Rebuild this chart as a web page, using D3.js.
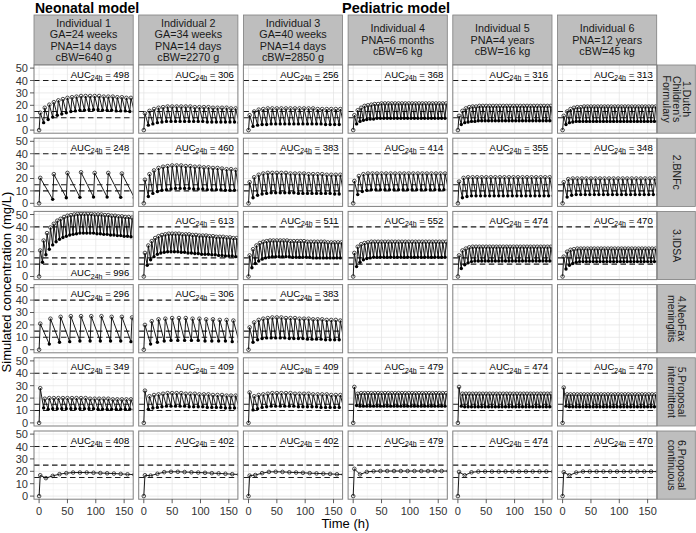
<!DOCTYPE html>
<html>
<head>
<meta charset="utf-8">
<script src="https://cdn.jsdelivr.net/npm/d3@7"></script>
<style>
  body { margin: 0; background: #fff; }
  text { font-family: "Liberation Sans", Arial, sans-serif; }
</style>
</head>
<body>
<svg width="696" height="533"></svg>
<script>
// ---- labels ----
const individuals = [
    ['Individual 1', 'GA=24 weeks', 'PNA=14 days', 'cBW=640 g'],
    ['Individual 2', 'GA=34 weeks', 'PNA=14 days', 'cBW=2270 g'],
    ['Individual 3', 'GA=40 weeks', 'PNA=14 days', 'cBW=2850 g'],
    ['Individual 4', 'PNA=6 months', 'cBW=6 kg'],
    ['Individual 5', 'PNA=4 years', 'cBW=16 kg'],
    ['Individual 6', 'PNA=12 years', 'cBW=45 kg']
];
const regimens = [
    ['1.Dutch', "Children's", 'Formulary'],
    ['2.BNFc'],
    ['3.IDSA'],
    ['4.NeoFax', 'meningitis'],
    ['5.Proposal', 'intermittent'],
    ['6.Proposal', 'continuous']
];
const aucValues = [
    [498, 306, 256, 368, 316, 313],
    [248, 460, 383, 414, 355, 348],
    [996, 613, 511, 552, 474, 470],
    [296, 306, 383, null, null, null],
    [349, 409, 409, 479, 474, 470],
    [408, 402, 402, 479, 474, 470]
];
const aucAtBottom = [[2, 0]];   // row, col of the label drawn at the bottom

const xTicks = [0, 50, 100, 150];
const yTicks = [0, 10, 20, 30, 40, 50];
const targetLines = [[10, 15, 40], [10, 15, 40], [10, 15, 40], [10, 15, 40], [10, 15, 40], [15, 25, 40]];

// dosing interval (h) per regimen row / individual, 0 = no simulation
const intervals = [
    [8, 8, 8, 6, 6, 6],
    [24, 8, 8, 8, 8, 8],
    [6, 6, 6, 6, 6, 6],
    [18, 12, 8, 0, 0, 0],
    [8, 8, 8, 6, 6, 6]
];
const infusionEnd = 2;

// ---- peak / trough concentrations (mg/L), one value per dose ----
const dutchPeaks = [
    [14, 18, 20.5, 22.5, 24, 25, 26, 26.5, 27, 27.5, 27.5, 27.5, 27.5, 27.5, 27, 27, 27, 26.5, 26.5, 26, 26],
    [13.5, 15.5, 17, 18, 18.5, 19, 19, 19, 19, 19, 19, 18.5, 18.5, 18.5, 18.5, 18, 18, 18, 18, 17.5, 17.5],
    [12, 15, 16.5, 17, 17.5, 17.5, 17.5, 17.5, 17.5, 17.5, 17.5, 17.5, 17.5, 17.5, 17.5, 17, 17, 17, 17, 17, 17],
    [12, 16, 18, 19.5, 20, 20.5, 21, 21, 21.5, 21.5, 21.5, 21.5, 21.5, 21.5,
     21.5, 21.5, 21.5, 21.5, 21.5, 21.5, 21.5, 21.5, 21.5, 21.5, 21.5, 21.5, 21.5, 21.5],
    [11.5, 15.5, 17.5, 18.5, 19, 19, 19.5, 19.5, 19.5, 19.5, 19.5, 19.5, 19.5, 19.5,
     19.5, 19.5, 19.5, 19.5, 19.5, 19.5, 19.5, 19.5, 19.5, 19.5, 19.5, 19.5, 19.5, 19.5],
    [11.5, 15, 17, 18, 18.5, 18.5, 19, 19, 19, 19, 19, 19, 19, 19,
     19, 19, 19, 19, 19, 19, 19, 19, 19, 19, 19, 19, 19, 19]
];
const dutchTroughs = [
    [6, 8.5, 10.5, 12, 13, 14, 15, 15.5, 16, 16, 16.5, 16.5, 16.5, 16, 16, 16, 15.5, 15.5, 15.5, 15, 15],
    [4, 5, 6, 6.5, 7, 7, 7, 7, 7, 7, 7, 7, 7, 6.5, 6.5, 6.5, 6.5, 6.5, 6.5, 6.5, 6],
    [3, 4, 4.5, 4.5, 5, 5, 5, 5, 5, 5, 5, 5, 5, 5, 5, 5, 4.5, 4.5, 4.5, 4.5, 4.5],
    [5, 7, 8, 8.5, 9, 9, 9.5, 9.5, 9.5, 9.5, 9.5, 9.5, 9.5, 9.5,
     9.5, 9.5, 9.5, 9.5, 9.5, 9.5, 9.5, 9.5, 9.5, 9.5, 9.5, 9.5, 9.5, 9.5],
    [4.5, 6, 6.5, 7, 7, 7.5, 7.5, 7.5, 7.5, 7.5, 7.5, 7.5, 7.5, 7.5,
     7.5, 7.5, 7.5, 7.5, 7.5, 7.5, 7.5, 7.5, 7.5, 7.5, 7.5, 7.5, 7.5, 7.5],
    [4.5, 6, 6.5, 7, 7, 7, 7, 7, 7, 7, 7, 7, 7, 7,
     7, 7, 7, 7, 7, 7, 7, 7, 7, 7, 7, 7, 7, 7]
];
const bnfcPeaks = [
    [20.5, 23.5, 24.5, 25, 24.5, 24.5, 24],
    [19, 23.5, 26.5, 28.5, 29.5, 30, 30.5, 30.5, 30.5, 30, 30, 29.5, 29.5, 29, 29, 28.5, 28.5, 28, 27.5, 27.5, 27],
    [17, 21, 23, 24, 24.5, 24.5, 24.5, 24.5, 24.5, 24, 24, 24, 24, 23.5, 23.5, 23.5, 23.5, 23, 23, 23, 23],
    [18, 22, 23.5, 24, 24, 24, 24, 24, 24, 24, 24, 24, 24, 24, 24, 24, 24, 24, 24, 24, 24],
    [17.5, 20.5, 21, 21, 21, 21, 21, 21, 21, 21, 21, 21, 21, 21, 21, 21, 21, 21, 21, 21, 21],
    [17, 19.5, 20, 20, 20, 20, 20, 20, 20, 20, 20, 20, 20, 20, 20, 20, 20, 20, 20, 20, 20]
];
const bnfcTroughs = [
    [3.2, 4.5, 4.8, 5, 5, 4.8, 4.5],
    [5.5, 8, 9.5, 10.5, 11, 11.5, 12, 12, 12, 12, 11.5, 11.5, 11.5, 11, 11, 11, 11, 10.5, 10.5, 10.5, 10.5],
    [4.5, 6.5, 7.5, 8, 8.5, 8.5, 8.5, 8.5, 8.5, 8.5, 8, 8, 8, 8, 8, 8, 8, 8, 7.5, 7.5, 7.5],
    [7, 9.5, 10.5, 11, 11, 11, 11, 11, 11, 11, 11, 11, 11, 11, 11, 11, 11, 11, 11, 11, 11],
    [4.5, 5.5, 6, 6, 6, 6, 6, 6, 6, 6, 6, 6, 6, 6, 6, 6, 6, 6, 6, 6, 6],
    [5, 6.5, 7, 7, 7, 7, 7, 7, 7, 7, 7, 7, 7, 7, 7, 7, 7, 7, 7, 7, 7]
];
const idsaPeaks = [
    [21, 29, 35, 39.5, 42.5, 45, 46.5, 48, 49, 49.5, 50, 50.5, 50.5, 50.5,
     50.5, 50.5, 50, 50, 50, 49.5, 49.5, 49, 49, 48.5, 48.5, 48, 48, 47.5],
    [19, 25, 28.5, 31, 32.5, 33.5, 34, 34.5, 34.5, 34.5, 34.5, 34, 34, 34,
     33.5, 33.5, 33, 33, 33, 32.5, 32.5, 32, 32, 32, 31.5, 31.5, 31, 31],
    [17, 22, 25, 27, 28, 28.5, 29, 29, 29, 29, 29, 29, 28.5, 28.5,
     28.5, 28.5, 28.5, 28, 28, 28, 28, 28, 28, 27.5, 27.5, 27.5, 27.5, 27.5],
    [19, 24, 26, 27, 27.5, 28, 28, 28, 28, 28, 28, 28, 28, 28,
     28, 28, 28, 28, 28, 28, 28, 28, 28, 28, 28, 28, 28, 28],
    [17, 21, 22.5, 23.5, 24, 24, 24, 24, 24, 24, 24, 24, 24, 24,
     24, 24, 24, 24, 24, 24, 24, 24, 24, 24, 24, 24, 24, 24],
    [16, 20, 21.5, 22, 22.5, 22.5, 22.5, 22.5, 22.5, 22.5, 22.5, 22.5, 22.5, 22.5,
     22.5, 22.5, 22.5, 22.5, 22.5, 22.5, 22.5, 22.5, 22.5, 22.5, 22.5, 22.5, 22.5, 22.5]
];
const idsaTroughs = [
    [11.5, 17.5, 22, 25.5, 28, 30, 31.5, 32.5, 33.5, 34, 34.5, 35, 35, 35,
     35, 35, 34.5, 34.5, 34, 34, 33.5, 33.5, 33, 33, 32.5, 32.5, 32, 32],
    [9, 13.5, 16, 18, 19, 19.5, 20, 20, 20, 20, 19.5, 19.5, 19, 19,
     18.5, 18.5, 18, 18, 18, 17.5, 17.5, 17, 17, 16.5, 16.5, 16.5, 16, 16],
    [7, 10.5, 12.5, 14, 15, 15.5, 16, 16, 16, 16, 16, 16, 15.5, 15.5,
     15.5, 15.5, 15.5, 15.5, 15, 15, 15, 15, 15, 15, 15, 15, 15, 15],
    [8, 11.5, 13.5, 14.5, 15, 15.5, 15.5, 15.5, 15.5, 15.5, 15.5, 15.5, 15.5, 15.5,
     15.5, 15.5, 15.5, 15.5, 15.5, 15.5, 15.5, 15.5, 15.5, 15.5, 15.5, 15.5, 15.5, 15.5],
    [6.5, 9.5, 11, 12, 12.5, 12.5, 12.5, 12.5, 12.5, 12.5, 12.5, 12.5, 12.5, 12.5,
     12.5, 12.5, 12.5, 12.5, 12.5, 12.5, 12.5, 12.5, 12.5, 12.5, 12.5, 12.5, 12.5, 12.5],
    [6, 9, 10.5, 11.5, 12, 12, 12, 12, 12, 12, 12, 12, 12, 12,
     12, 12, 12, 12, 12, 12, 12, 12, 12, 12, 12, 12, 12, 12]
];
const neofaxPeaks = [
    [21, 25, 26.5, 27, 27, 27, 27, 26.5, 26.5, 26],
    [20, 23, 24.5, 25, 25.5, 25.5, 25.5, 25, 25, 24.5, 24.5, 24, 24, 23.5],
    [18, 22, 24, 25, 25.5, 26, 26, 26, 25.5, 25.5, 25.5, 25, 25, 25, 24.5, 24.5, 24.5, 24, 24, 24, 23.5],
    [], [], []
];
const neofaxTroughs = [
    [4.5, 6, 6.5, 7, 7, 7, 7, 7, 6.5, 6.5],
    [4.5, 6, 7, 7.5, 7.5, 7.5, 7.5, 7.5, 7, 7, 7, 7, 6.5, 6.5],
    [6, 8, 9, 9.5, 9.5, 9.5, 9.5, 9.5, 9, 9, 9, 9, 8.5, 8.5, 8.5, 8.5, 8, 8, 8, 8, 8],
    [], [], []
];
const propIntPeaks = [
    [28, 19.5, 20, 20, 20, 20, 20, 20, 20, 20, 20, 19.5, 19.5, 19.5, 19.5, 19.5, 19, 19, 19, 19, 19],
    [26, 21.5, 22.5, 23, 23.5, 24, 24, 24, 24, 23.5, 23.5, 23.5, 23, 23, 23, 22.5, 22.5, 22.5, 22, 22, 22],
    [24.5, 21.5, 22.5, 23, 23.5, 24, 24, 24, 24, 24, 23.5, 23.5, 23.5, 23.5, 23, 23, 23, 23, 22.5, 22.5, 22.5],
    [29, 23.5, 24, 24, 24, 24, 24, 24, 24, 24, 24, 24, 24, 24,
     24, 24, 24, 24, 24, 24, 24, 24, 24, 24, 24, 24, 24, 24],
    [29, 23.5, 23.5, 23.5, 23.5, 23.5, 23.5, 23.5, 23.5, 23.5, 23.5, 23.5, 23.5, 23.5,
     23.5, 23.5, 23.5, 23.5, 23.5, 23.5, 23.5, 23.5, 23.5, 23.5, 23.5, 23.5, 23.5, 23.5],
    [28.5, 23, 23, 23, 23, 23, 23, 23, 23, 23, 23, 23, 23, 23,
     23, 23, 23, 23, 23, 23, 23, 23, 23, 23, 23, 23, 23, 23]
];
const propIntTroughs = [
    [12, 11, 11.5, 11.5, 11.5, 11.5, 11.5, 11.5, 11.5, 11.5, 11.5, 11.5, 11, 11, 11, 11, 11, 11, 11, 11, 11],
    [11, 12, 12.5, 13, 13.5, 13.5, 13.5, 13.5, 13.5, 13, 13, 13, 13, 12.5, 12.5, 12.5, 12.5, 12, 12, 12, 12],
    [10.5, 11.5, 12.5, 13, 13.5, 13.5, 13.5, 13.5, 13.5, 13.5, 13, 13, 13, 13, 13, 12.5, 12.5, 12.5, 12.5, 12.5, 12],
    [14, 13.5, 13.5, 13.5, 13.5, 13.5, 13.5, 13.5, 13.5, 13.5, 13.5, 13.5, 13.5, 13.5,
     13.5, 13.5, 13.5, 13.5, 13.5, 13.5, 13.5, 13.5, 13.5, 13.5, 13.5, 13.5, 13.5, 13.5],
    [13.5, 13, 13, 13, 13, 13, 13, 13, 13, 13, 13, 13, 13, 13,
     13, 13, 13, 13, 13, 13, 13, 13, 13, 13, 13, 13, 13, 13],
    [13.5, 13, 13, 13, 13, 13, 13, 13, 13, 13, 13, 13, 13, 13,
     13, 13, 13, 13, 13, 13, 13, 13, 13, 13, 13, 13, 13, 13]
];

// continuous infusion: sampling times and levels
const contTimes = [0, 2, 12, 24, 36, 48, 60, 72, 84, 96, 108, 120, 132, 144, 156, 168];
const contLevels = [
    [0, 16.8, 14.5, 16.3, 17.7, 18.5, 19, 19, 19, 18.8, 18.6, 18.4, 18.2, 17.9, 17.6, 17.3],
    [0, 16.8, 16.5, 18, 19.3, 19.6, 19.6, 19.4, 19.2, 19, 18.8, 18.5, 18.3, 18, 17.7, 17.4],
    [0, 16.5, 17, 18.5, 19.5, 19.6, 19.5, 19.2, 19, 18.8, 18.5, 18.3, 18.1, 17.9, 17.6, 17.4],
    [0, 22, 17.5, 19.5, 20, 20.2, 20.2, 20.2, 20.2, 20.2, 20.2, 20.2, 20.2, 20.2, 20.2, 20.2],
    [0, 19.5, 16.8, 19.2, 19.8, 19.8, 19.8, 19.8, 19.8, 19.8, 19.8, 19.8, 19.8, 19.8, 19.8, 19.8],
    [0, 19.3, 16.8, 19, 19.8, 19.8, 19.8, 19.8, 19.8, 19.8, 19.8, 19.8, 19.8, 19.8, 19.8, 19.8]
];

const peakRows = [dutchPeaks, bnfcPeaks, idsaPeaks, neofaxPeaks, propIntPeaks];
const troughRows = [dutchTroughs, bnfcTroughs, idsaTroughs, neofaxTroughs, propIntTroughs];

// ---- layout ----
const panelLeft = 34, panelTop = 65;
const panelW = 99.2, panelH = 68.2;
const colStep = 104.7, rowStep = 73.2;
const stripTop = 15, stripH = 50, sideW = 38;

const svg = d3.select('svg');

const x = d3.scaleLinear().domain([-9, 166]).range([0, panelW]);
const y = d3.scaleLinear().domain([-2.5, 52.5]).range([panelH, 0]);

const line = d3.line().x(d => x(d.t)).y(d => y(d.c));

const intermittent = (tau, peaks, troughs) => {
    const pts = [{ t: 0, c: 0, open: true }];
    peaks.forEach((p, k) => {
        pts.push({ t: k * tau + infusionEnd, c: p, open: true });
        pts.push({ t: (k + 1) * tau, c: troughs[k], open: false });
    });
    return pts;
};

// titles
svg.append('text').attr('x', 35).attr('y', 13)
    .attr('font-size', 14).attr('font-weight', 'bold').text('Neonatal model');
svg.append('text').attr('x', 342).attr('y', 13)
    .attr('font-size', 14.5).attr('font-weight', 'bold').text('Pediatric model');

// column strips
individuals.forEach((lines, c) => {
    const gx = panelLeft + c * colStep;
    const s = svg.append('g').attr('transform', `translate(${gx},${stripTop})`);
    s.append('rect').attr('width', panelW).attr('height', stripH)
        .attr('fill', '#bebebe').attr('stroke', '#7f7f7f').attr('stroke-width', 0.8);
    const lh = 11.4;
    lines.forEach((t, i) => {
        s.append('text')
            .attr('x', panelW / 2)
            .attr('y', stripH / 2 + (i - (lines.length - 1) / 2) * lh + 3.8)
            .attr('text-anchor', 'middle').attr('font-size', 10.8).attr('fill', '#1a1a1a')
            .text(t);
    });
});

// row strips
regimens.forEach((lines, r) => {
    const gy = panelTop + r * rowStep;
    const gx = panelLeft + 5 * colStep + panelW + 0.6;
    svg.append('rect').attr('x', gx).attr('y', gy).attr('width', sideW).attr('height', panelH)
        .attr('fill', '#bebebe').attr('stroke', '#7f7f7f').attr('stroke-width', 0.8);
    const s = svg.append('g').attr('transform', `translate(${gx + sideW / 2},${gy + panelH / 2}) rotate(90)`);
    const lh = 10.2;
    lines.forEach((t, i) => {
        s.append('text')
            .attr('x', 0)
            .attr('y', (i - (lines.length - 1) / 2) * lh + 3.6)
            .attr('text-anchor', 'middle').attr('font-size', 10.5).attr('fill', '#1a1a1a')
            .text(t);
    });
});

const defs = svg.append('defs');
defs.append('clipPath').attr('id', 'panel-clip')
    .append('rect').attr('width', panelW).attr('height', panelH);

for (let r = 0; r < 6; r++) {
    for (let c = 0; c < 6; c++) {
        const g = svg.append('g')
            .attr('transform', `translate(${panelLeft + c * colStep},${panelTop + r * rowStep})`);

        g.append('rect').attr('width', panelW).attr('height', panelH).attr('fill', '#fff');

        // grid
        const grid = g.append('g');
        [5, 15, 25, 35, 45].forEach(v => grid.append('line')
            .attr('x1', 0).attr('x2', panelW).attr('y1', y(v)).attr('y2', y(v))
            .attr('stroke', '#f2f2f2').attr('stroke-width', 0.6));
        [25, 75, 125].forEach(v => grid.append('line')
            .attr('y1', 0).attr('y2', panelH).attr('x1', x(v)).attr('x2', x(v))
            .attr('stroke', '#f2f2f2').attr('stroke-width', 0.6));
        yTicks.forEach(v => grid.append('line')
            .attr('x1', 0).attr('x2', panelW).attr('y1', y(v)).attr('y2', y(v))
            .attr('stroke', '#e3e3e3').attr('stroke-width', 0.7));
        xTicks.forEach(v => grid.append('line')
            .attr('y1', 0).attr('y2', panelH).attr('x1', x(v)).attr('x2', x(v))
            .attr('stroke', '#e3e3e3').attr('stroke-width', 0.7));

        let pts = null;
        if (r < 5) {
            const tau = intervals[r][c];
            if (tau > 0) pts = intermittent(tau, peakRows[r][c], troughRows[r][c]);
        } else {
            pts = contTimes.map((t, i) => ({ t, c: contLevels[c][i], open: true }));
        }

        if (pts) {
            const inner = g.append('g').attr('clip-path', 'url(#panel-clip)');
            targetLines[r].forEach(v => inner.append('line')
                .attr('x1', 0).attr('x2', panelW).attr('y1', y(v)).attr('y2', y(v))
                .attr('stroke', '#1a1a1a').attr('stroke-width', 1.1)
                .attr('stroke-dasharray', '5.5,3.5'));

            inner.append('path').datum(pts)
                .attr('d', line)
                .attr('fill', 'none').attr('stroke', '#000').attr('stroke-width', 0.9);

            inner.selectAll('circle.open').data(pts.filter(d => d.open))
                .enter().append('circle')
                .attr('class', 'open')
                .attr('cx', d => x(d.t)).attr('cy', d => y(d.c)).attr('r', 1.8)
                .attr('fill', 'none').attr('stroke', '#111').attr('stroke-width', 0.75);
            inner.selectAll('circle.filled').data(pts.filter(d => !d.open))
                .enter().append('circle')
                .attr('class', 'filled')
                .attr('cx', d => x(d.t)).attr('cy', d => y(d.c)).attr('r', 1.7)
                .attr('fill', '#000');

            const auc = aucValues[r][c];
            const bottom = aucAtBottom.some(([rr, cc]) => rr === r && cc === c);
            const ty = bottom ? panelH - 3.5 : 12.5;
            const t = g.append('text')
                .attr('x', panelW - 4).attr('y', ty)
                .attr('text-anchor', 'end').attr('font-size', 9.5).attr('fill', '#000');
            t.append('tspan').text('AUC');
            t.append('tspan').attr('font-size', 7).attr('dy', 2.5).text('24h');
            t.append('tspan').attr('dy', -2.5).text(' = ' + auc);
        }

        g.append('rect').attr('width', panelW).attr('height', panelH)
            .attr('fill', 'none').attr('stroke', '#7f7f7f').attr('stroke-width', 1);

        // y axis on first column
        if (c === 0) {
            yTicks.forEach(v => {
                g.append('line').attr('x1', -4).attr('x2', 0).attr('y1', y(v)).attr('y2', y(v))
                    .attr('stroke', '#333').attr('stroke-width', 0.8);
                g.append('text').attr('x', -6).attr('y', y(v) + 4)
                    .attr('text-anchor', 'end').attr('font-size', 11).attr('fill', '#333')
                    .text(v);
            });
        }
        // x axis on bottom row
        if (r === 5) {
            xTicks.forEach(v => {
                g.append('line').attr('x1', x(v)).attr('x2', x(v)).attr('y1', panelH).attr('y2', panelH + 4)
                    .attr('stroke', '#333').attr('stroke-width', 0.8);
                g.append('text').attr('x', x(v)).attr('y', panelH + 16)
                    .attr('text-anchor', 'middle').attr('font-size', 11).attr('fill', '#333')
                    .text(v);
            });
        }
    }
}

// axis titles
const panelsBottom = panelTop + 5 * rowStep + panelH;
svg.append('text')
    .attr('x', (panelLeft + panelLeft + 5 * colStep + panelW) / 2).attr('y', panelsBottom + 29)
    .attr('text-anchor', 'middle').attr('font-size', 13).attr('fill', '#000')
    .text('Time (h)');
svg.append('text')
    .attr('transform', `translate(11,${(panelTop + panelsBottom) / 2}) rotate(-90)`)
    .attr('text-anchor', 'middle').attr('font-size', 13).attr('fill', '#000')
    .text('Simulated concentration (mg/L)');
</script>
</body>
</html>
